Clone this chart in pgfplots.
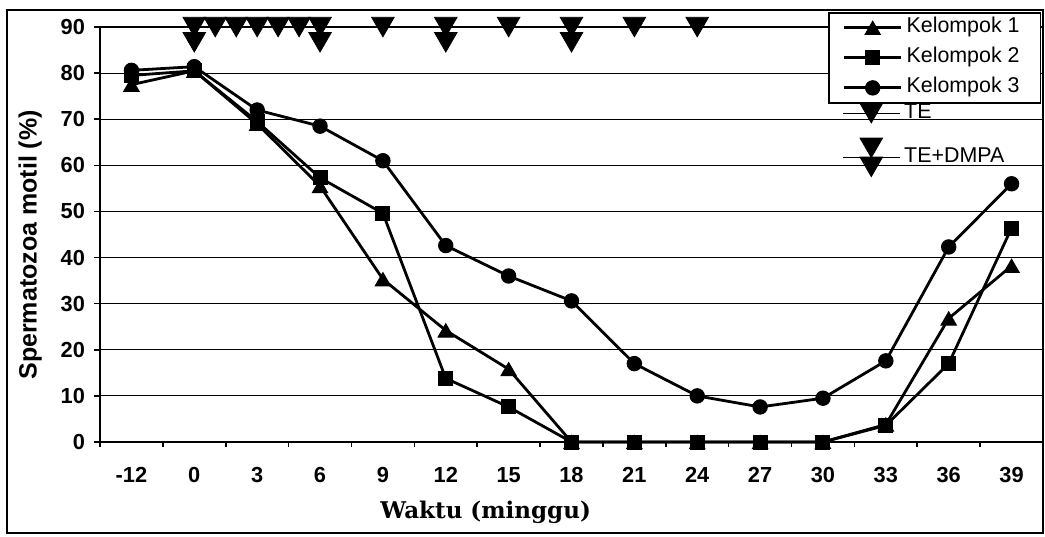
\documentclass[border=0pt]{standalone}
\usepackage{pgfplots}
\pgfplotsset{compat=1.18}
\usepackage{fontspec}
\setmainfont{Liberation Sans}
\newfontfamily\serifb{DejaVu Serif}
\pgfplotsset{
  te legend/.style={legend image code/.code={\path (0pt,0pt) -- (28.5pt,0pt); \draw[##1, only marks] plot coordinates {(14.25pt,0pt)};}},
  ted legend/.style={legend image code/.code={\path (0pt,0pt) -- (28.5pt,0pt); \draw[##1, only marks] plot coordinates {(14.25pt,4.75pt)}; \draw[##1, only marks] plot coordinates {(14.25pt,-4.75pt)};}},
  k legend/.style={legend image code/.code={\draw[mark repeat=2, mark phase=2, ##1] plot coordinates {(0pt,0pt) (14.25pt,0pt) (28.5pt,0pt)};}},
}
\begin{document}
\begin{tikzpicture}
\useasboundingbox (-50pt,-47pt) rectangle (472.5pt,221pt);
\begin{axis}[
  at={(0,0)}, anchor=south west,
  scale only axis, width=471.5pt, height=207.5pt,
  xmin=-0.5, xmax=14.5, ymin=0, ymax=90,
  axis lines*=left, axis line style={-, line width=1pt, black},
  xtick={0,...,14},
  xticklabels={-12,0,3,6,9,12,15,18,21,24,27,30,33,36,39},
  minor xtick={-0.5,0.5,...,14.5},
  major x tick style={draw=none},
  minor x tick style={black, line width=0.8pt},
  minor tick length=2.5pt,
  ytick={0,10,...,90},
  ytick style={black, line width=0.8pt},
  tick align=outside,
  major tick length=3pt,
  ymajorgrids, major grid style={black, line width=0.6pt},
  ticklabel style={font=\bfseries\fontsize{10.9}{12}\selectfont},
  xticklabel style={yshift=-6pt},
  yticklabel style={xshift=-1pt},
  /pgf/number format/assume math mode=true,
  xlabel={\serifb\bfseries Waktu (minggu)},
  xlabel style={at={(axis description cs:0.409,-0.169)}, anchor=center, font=\fontsize{11.5}{13}\selectfont},
  ylabel={\bfseries Spermatozoa motil (\%)},
  ylabel style={at={(axis description cs:-0.074,0.475)}, anchor=center, font=\fontsize{12.5}{14}\selectfont},
  clip=false,
  legend style={at={(axis description cs:0.772,1.036)}, anchor=north west, draw=black, line width=0.8pt, fill=white,
    inner xsep=7pt, inner ysep=0pt, font=\fontsize{10.7}{12}\selectfont,
    nodes={inner ysep=2.5pt, inner xsep=2pt, text height=7.5pt, text depth=2.5pt}},
  legend cell align=left,
  k legend,
]
\addplot[black, line width=1.4pt, mark=triangle*, mark size=4.4pt, mark options={yshift=-1.1pt, fill=black, line width=0.5pt}]
  coordinates {(0,77.5)(1,80.5)(2,69)(3,55.5)(4,35.3)(5,24.2)(6,15.8)(7,0)(8,0)(9,0)(10,0)(11,0)(12,3.8)(13,26.8)(14,38.2)};
\addlegendentry{\makebox[58pt][l]{Kelompok 1}}
\addplot[black, line width=1.4pt, mark=square*, mark size=3.5pt, mark options={fill=black, line width=0.5pt}]
  coordinates {(0,79.5)(1,80.5)(2,69.5)(3,57.3)(4,49.6)(5,13.8)(6,7.6)(7,0)(8,0)(9,0)(10,0)(11,0)(12,3.6)(13,17)(14,46.4)};
\addlegendentry{\makebox[58pt][l]{Kelompok 2}}
\addplot[black, line width=1.4pt, mark=*, mark size=3.6pt, mark options={fill=black, line width=0.5pt}]
  coordinates {(0,80.6)(1,81.4)(2,72)(3,68.5)(4,61)(5,42.6)(6,36)(7,30.6)(8,17)(9,10)(10,7.6)(11,9.5)(12,17.6)(13,42.3)(14,56)};
\addlegendentry{\makebox[58pt][l]{Kelompok 3}}
\end{axis}
\begin{axis}[
  at={(0,0)}, anchor=south west,
  scale only axis, width=471.5pt, height=207.5pt,
  xmin=-0.5, xmax=14.5, ymin=0, ymax=90,
  hide axis, clip=false,
  legend style={at={(axis description cs:0.772,0.82)}, anchor=north west, draw=none, fill=none,
    inner xsep=7pt, inner ysep=0pt, font=\fontsize{10.7}{12}\selectfont, row sep=7pt,
    nodes={inner ysep=0.5pt, inner xsep=2pt, text height=7.5pt, text depth=2.5pt}},
  legend cell align=left,
]
\addplot[black, only marks, mark=triangle*, mark size=6.5pt, mark options={yshift=1.6pt, rotate=180, fill=black}, te legend]
  coordinates {(1,90)(1.333,90)(1.667,90)(2,90)(2.333,90)(2.667,90)(3,90)(4,90)(5,90)(6,90)(7,90)(8,90)(9,90)};
\addlegendentry{TE}
\addplot[black, only marks, mark=triangle*, mark size=6.5pt, mark options={yshift=1.6pt, rotate=180, fill=black}, ted legend]
  coordinates {(1,86.7)(3,86.7)(5,86.7)(7,86.7)};
\addlegendentry{TE+DMPA}
\end{axis}
\draw[line width=0.8pt] (-46.5pt,-45.5pt) rectangle (471.5pt,216pt);
\end{tikzpicture}
\end{document}
